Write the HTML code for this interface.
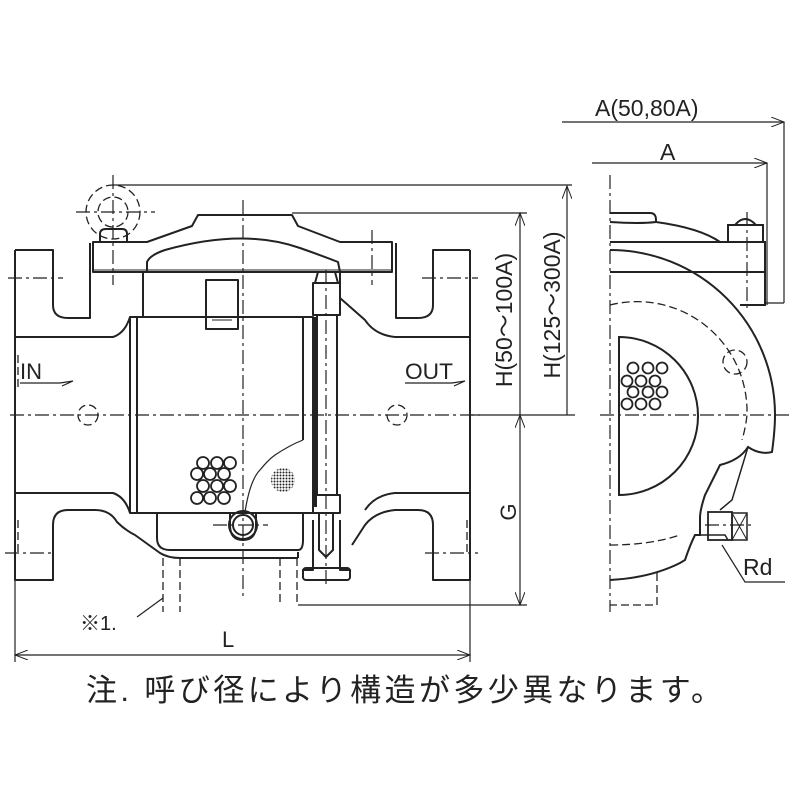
<!DOCTYPE html>
<html><head><meta charset="utf-8"><style>
html,body{margin:0;padding:0;background:#fff}
svg{display:block}
text{font-family:"Liberation Sans","Noto Sans CJK JP",sans-serif;fill:#222}
</style></head><body>
<svg width="800" height="800" viewBox="0 0 800 800" xmlns="http://www.w3.org/2000/svg">
<defs>
<marker id="ar" markerWidth="14" markerHeight="10" refX="13" refY="5" orient="auto-start-reverse" markerUnits="userSpaceOnUse">
<path d="M0,0 L13,5 L0,10" fill="none" stroke="#222" stroke-width="1"/></marker>
<pattern id="mesh" width="3" height="3" patternUnits="userSpaceOnUse"><circle cx="1.5" cy="1.5" r="1" fill="#222"/></pattern>
</defs>
<g fill="none" stroke="#222" stroke-width="2" stroke-linejoin="round">
<path d="M15,250 H53 V305 Q53,318 68,318 H90 V243"/>
<path d="M15,250 V580 H53 V525 Q53,510 68,510 H95 Q110,510 117,522 Q125,530 135,535 L160,553 Q168,558 180,558 H298"/>
<path d="M15,337 H113 Q125,333 130,317"/>
<path d="M15,493 H113 Q125,497 130,513"/>
<path d="M470,250 H433 V305 Q433,318 418,318 H396 V243"/>
<path d="M470,250 V580 H433 V525 Q433,510 418,510 H395 Q375,512 365,525 L352,545"/>
<path d="M470,337 H395 Q375,335 365,320 L340,298"/>
<path d="M470,493 H395 Q375,495 365,510"/>
<path d="M93,242 V272 H392 V242 H340 L298,226 L292,215 H198 L192,226 L147,242 Z"/>
<path d="M147,272 V262 Q150,255 165,250 Q243,228 300,248 Q320,255 338,262 L340,272"/>
<line x1="93" y1="270" x2="392" y2="270" stroke-width="1"/>
<path d="M143,272 V317"/>
<path d="M340,272 V300"/>
<path d="M100,242 V234 Q100,229 106,229 H122 Q127,229 127,234 V242"/>
<rect x="130" y="317" width="183" height="196"/>
<line x1="137" y1="317" x2="137" y2="513"/>
<line x1="303" y1="317" x2="303" y2="440"/>
<rect x="206" y="280" width="32" height="49"/>
<line x1="212" y1="320" x2="232" y2="320" stroke-width="1"/>
<path d="M157,513 V538 Q157,550 170,550 H298 Q303,550 303,540 V513"/>
<path d="M298,558 V552"/>
<rect x="313" y="283" width="27" height="32"/>
<path d="M315,283 L318,272 H335 L338,283"/>
<rect x="317" y="315" width="20" height="180"/>
<rect x="313" y="495" width="27" height="18"/>
<path d="M319,513 V550 L326,557 L333,550 V513"/>
<path d="M303,578 V570 H313 V520 M350,578 V570 H340 V520"/>
<rect x="303" y="568" width="47" height="12" rx="3"/>
<circle cx="243" cy="525" r="14"/>
<circle cx="243" cy="525" r="10"/>
<path d="M230,513 V525 Q230,540 243,540 Q256,540 256,525 V513"/>
<path d="M245,512 Q250,480 260,470 Q268,460 275,455 Q290,445 303,440" stroke-width="1.2"/>
</g>
<rect x="312" y="317" width="5" height="190" fill="#222"/>
<circle cx="283" cy="480" r="12" fill="url(#mesh)"/>
<g fill="none" stroke="#222" stroke-width="1.8">
<circle cx="203" cy="463" r="6"/><circle cx="217" cy="463" r="6"/><circle cx="230" cy="463" r="6"/>
<circle cx="197" cy="474" r="6"/><circle cx="210" cy="474" r="6"/><circle cx="224" cy="474" r="6"/>
<circle cx="203" cy="486" r="6"/><circle cx="217" cy="486" r="6"/><circle cx="230" cy="486" r="6"/>
<circle cx="197" cy="498" r="6"/><circle cx="210" cy="498" r="6"/><circle cx="224" cy="498" r="6"/>
</g>
<g fill="none" stroke="#222" stroke-width="1.2" stroke-dasharray="14,4,3,4">
<line x1="10" y1="415" x2="480" y2="415"/>
<line x1="243" y1="200" x2="243" y2="600"/>
<line x1="600" y1="415" x2="792" y2="415"/>
<line x1="610" y1="175" x2="610" y2="612"/>
<line x1="76" y1="212" x2="155" y2="212"/>
<line x1="113" y1="175" x2="113" y2="285"/>
<line x1="8" y1="278" x2="63" y2="278"/><line x1="422" y1="278" x2="478" y2="278"/>
<line x1="5" y1="553" x2="55" y2="553"/><line x1="425" y1="553" x2="478" y2="553"/>
<line x1="372" y1="230" x2="372" y2="285"/>
<line x1="326" y1="270" x2="326" y2="585"/>
<line x1="213" y1="525" x2="268" y2="525"/>
<line x1="747" y1="212" x2="747" y2="310"/>
<line x1="705" y1="525" x2="755" y2="525"/>
</g>
<g fill="none" stroke="#222" stroke-width="1.3" stroke-dasharray="8,4">
<circle cx="113" cy="212" r="27"/><circle cx="113" cy="212" r="15"/>
<circle cx="88" cy="415" r="10"/><circle cx="397" cy="415" r="10"/>
<path d="M163,558 V612 M180,558 V612 M280,558 V605 M297,558 V605"/>
<path d="M610,305 A110,110 0 0 1 747,415 A140,140 0 0 1 742,440"/>
<path d="M610,545 Q650,545 680,535"/>
<path d="M657,573 V605 H610"/>
<circle cx="735" cy="362" r="12"/>
<path d="M18,355 V390 M18,520 V555 M467,520 V555"/>
</g>
<g fill="none" stroke="#222" stroke-width="2">
<path d="M610,242 H765 V272 H610"/>
<path d="M610,272 H765 V305 H740"/>
<path d="M610,213 H650 Q656,213 656,220 V222 Q700,228 720,242"/>
<path d="M610,222 Q640,224 656,222"/>
<rect x="728" y="225" width="35" height="17"/>
<path d="M735,225 Q745,213 756,225"/>
<path d="M610,250 A165,165 0 0 1 775,415 Q775,430 772,452 Q760,455 748,447 Q740,460 720,465 L705,495 Q700,510 700,518 L700,535 H695 Q690,545 685,560 L680,563 Q650,578 610,580"/>
<path d="M619,337 A79,79 0 0 1 619,495 Z"/>
<path d="M748,447 L732,500 L720,510" stroke-width="1.5"/>
<rect x="708" y="512" width="24" height="28" stroke-width="1.8"/>
<rect x="732" y="513" width="15" height="27" stroke-width="1.5"/>
<path d="M732,513 L747,540 M747,513 L732,540" stroke-width="1"/>
<path d="M700,535 H725 L728,540" stroke-width="1.5"/>
</g>
<g fill="none" stroke="#222" stroke-width="1.8">
<circle cx="633" cy="368" r="5.5"/><circle cx="648" cy="368" r="5.5"/><circle cx="662" cy="368" r="5.5"/>
<circle cx="627" cy="381" r="5.5"/><circle cx="641" cy="381" r="5.5"/><circle cx="655" cy="381" r="5.5"/>
<circle cx="633" cy="392" r="5.5"/><circle cx="648" cy="392" r="5.5"/><circle cx="662" cy="392" r="5.5"/>
<circle cx="627" cy="404" r="5.5"/><circle cx="641" cy="404" r="5.5"/><circle cx="655" cy="404" r="5.5"/>
</g>
<g fill="none" stroke="#222" stroke-width="1.2">
<line x1="113" y1="185" x2="572" y2="185"/>
<line x1="292" y1="213" x2="527" y2="213"/>
<line x1="520" y1="415" x2="520" y2="213" marker-end="url(#ar)"/>
<line x1="567" y1="415" x2="567" y2="186" marker-end="url(#ar)"/>
<line x1="470" y1="415" x2="575" y2="415"/>
<line x1="520" y1="415" x2="520" y2="605" marker-start="url(#ar)" marker-end="url(#ar)"/>
<line x1="298" y1="605" x2="527" y2="605"/>
<line x1="15" y1="580" x2="15" y2="662"/>
<line x1="470" y1="580" x2="470" y2="662"/>
<line x1="15" y1="655" x2="470" y2="655" marker-start="url(#ar)" marker-end="url(#ar)"/>
<line x1="137" y1="617" x2="163" y2="598"/>
<line x1="562" y1="122" x2="784" y2="122" marker-end="url(#ar)"/>
<line x1="784" y1="122" x2="784" y2="303"/>
<line x1="784" y1="303" x2="766" y2="303"/>
<line x1="592" y1="163" x2="767" y2="163" marker-end="url(#ar)"/>
<line x1="767" y1="163" x2="767" y2="305"/>
<path d="M722,545 L745,582 H785"/>
<path d="M20,383 H60 L73,381 L62,386"/>
<path d="M405,383 H452 L465,381 L454,386"/>
</g>
<text x="20" y="379" font-size="22">IN</text>
<text x="405" y="379" font-size="22" textLength="48" lengthAdjust="spacingAndGlyphs">OUT</text>
<text x="222" y="647" font-size="22">L</text>
<text transform="translate(516,512) rotate(-90)" font-size="22" text-anchor="middle">G</text>
<text transform="translate(512,320) rotate(-90)" font-size="23" text-anchor="middle">H(50～100A)</text>
<text transform="translate(560,305) rotate(-90)" font-size="23" text-anchor="middle">H(125～300A)</text>
<text x="595" y="116" font-size="23">A(50,80A)</text>
<text x="660" y="160" font-size="23">A</text>
<text x="743" y="575" font-size="23">Rd</text>
<text x="80" y="630" font-size="20">※1.</text>
<text x="86" y="701" font-size="31" textLength="636" lengthAdjust="spacing">注. 呼び径により構造が多少異なります。</text>
</svg>
</body></html>
